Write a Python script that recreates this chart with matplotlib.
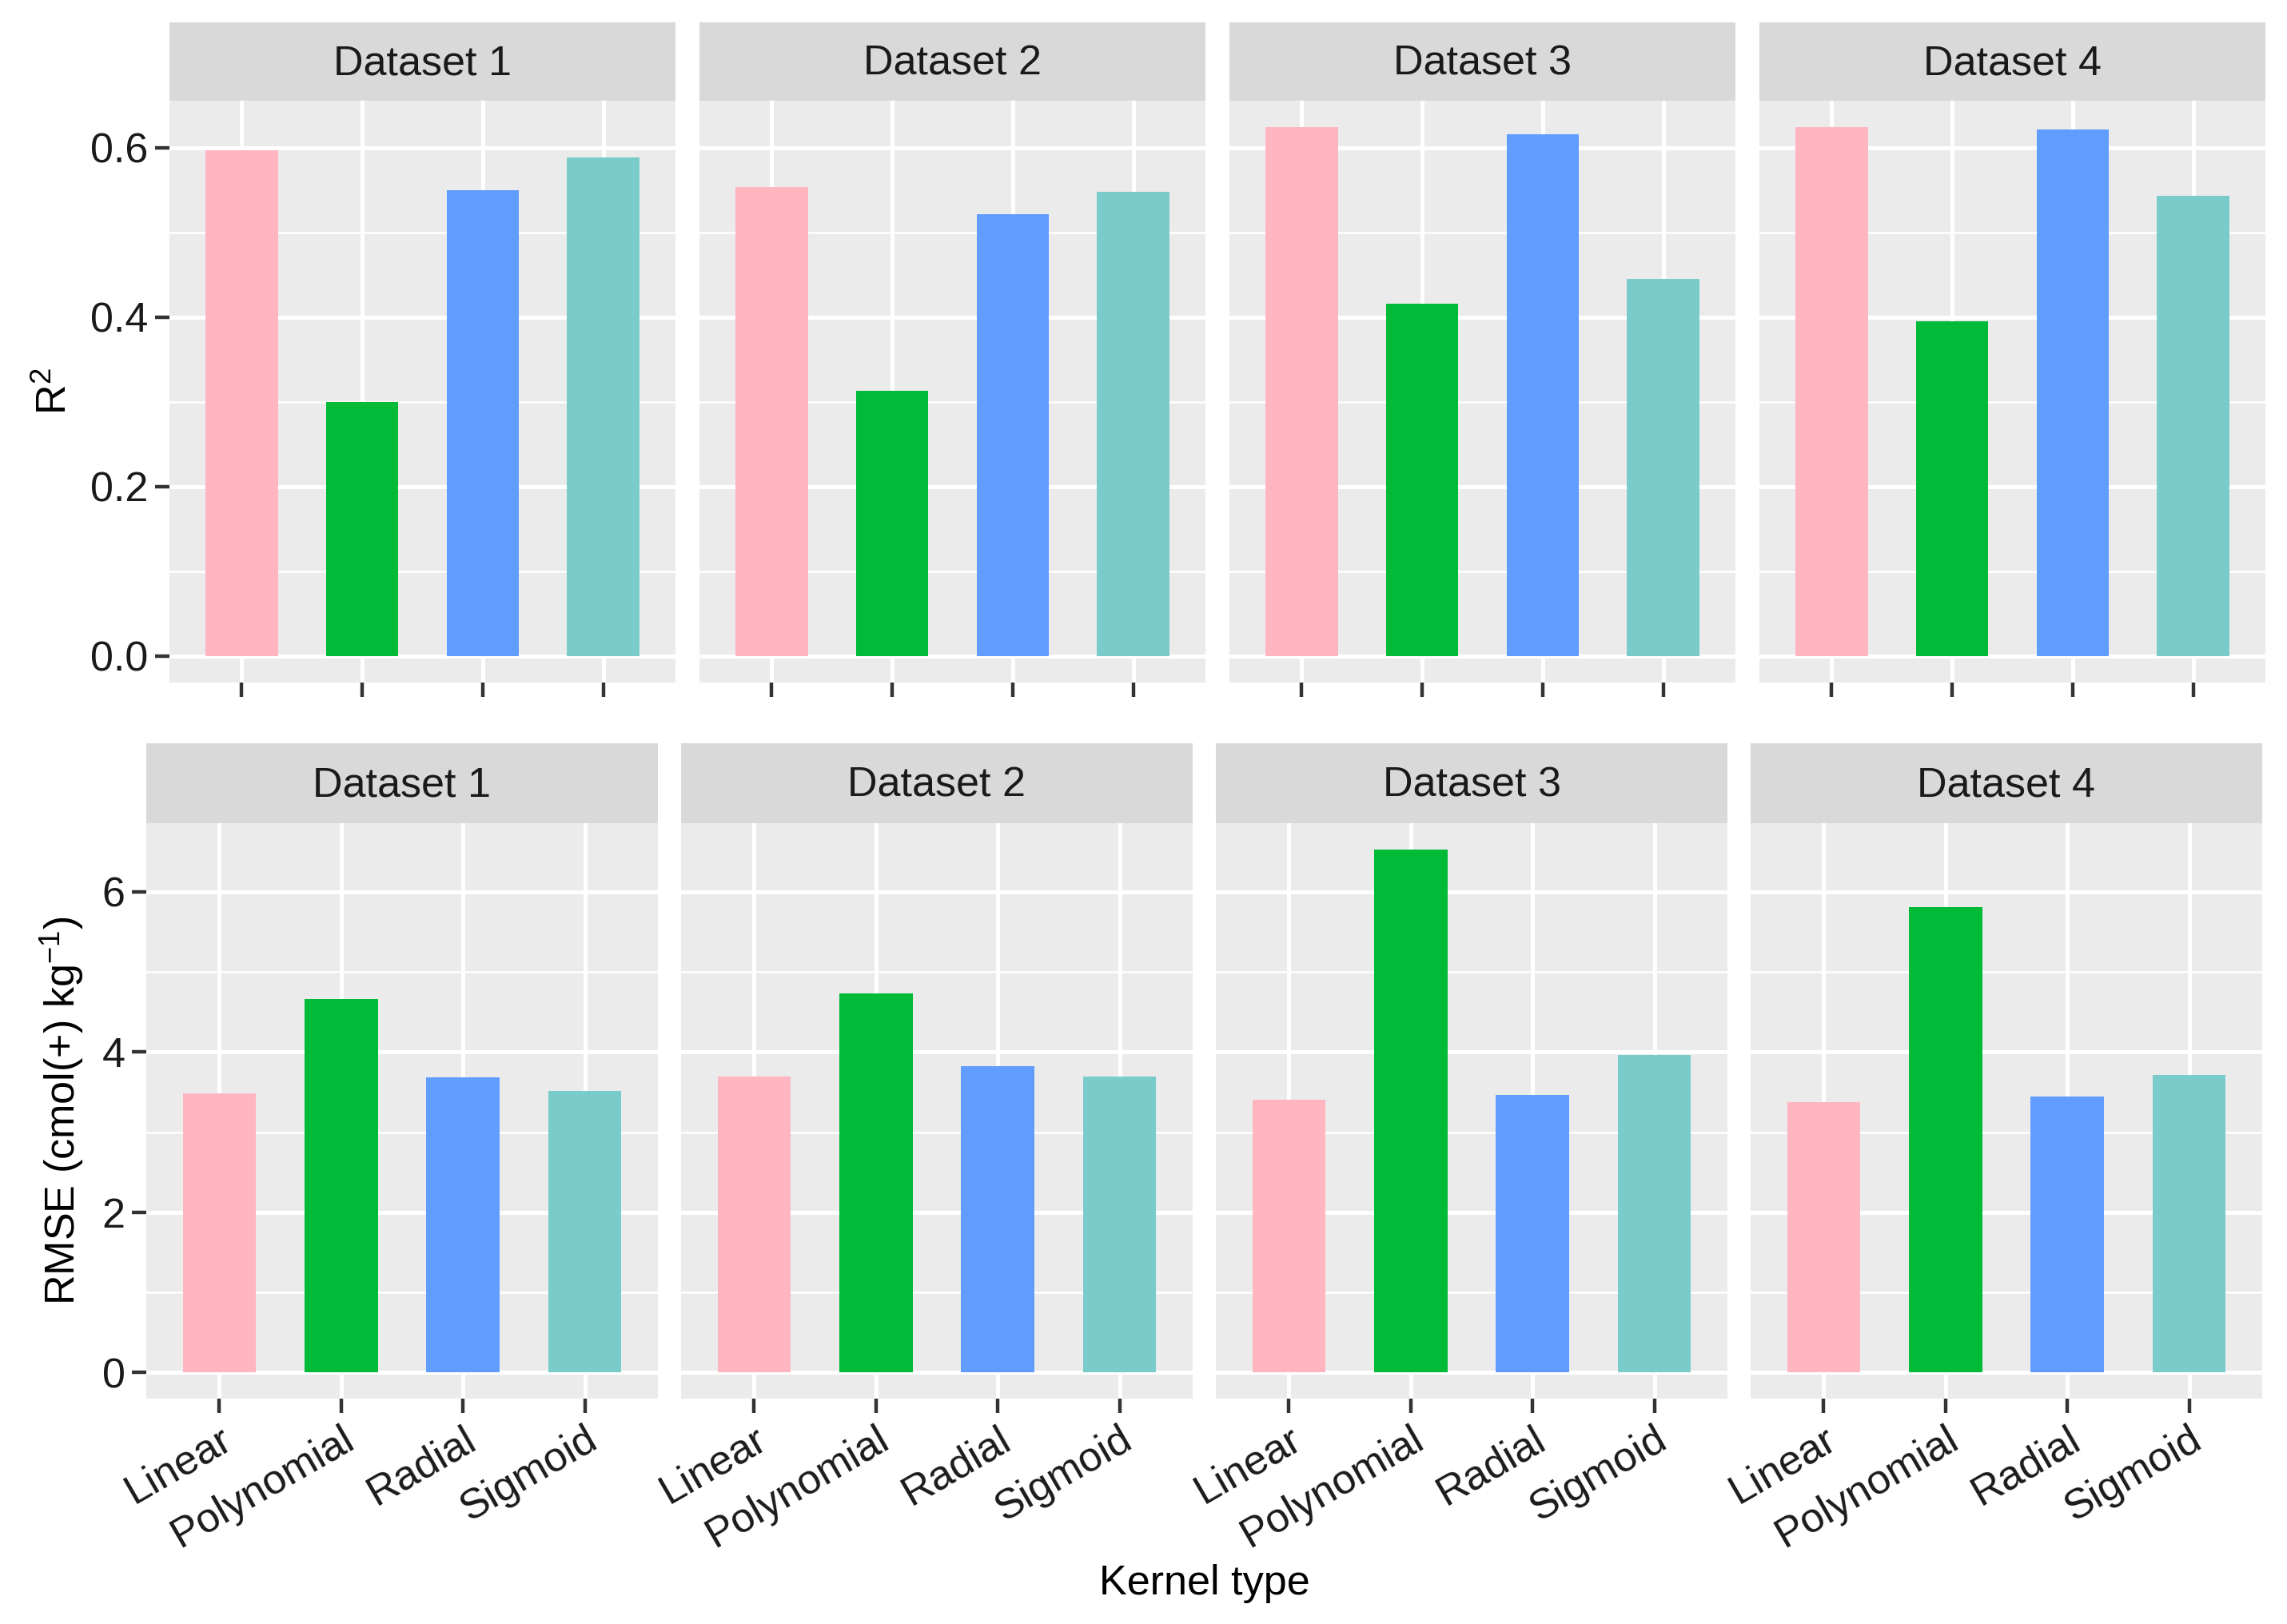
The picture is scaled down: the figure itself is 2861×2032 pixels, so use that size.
import matplotlib
matplotlib.use("Agg")
import matplotlib.pyplot as plt
from matplotlib.ticker import MultipleLocator

plt.rcParams['font.family'] = ['Liberation Sans', 'DejaVu Sans']
plt.rcParams['mathtext.fontset'] = 'custom'
plt.rcParams['mathtext.rm'] = 'Liberation Sans'
plt.rcParams['mathtext.it'] = 'Liberation Sans:italic'

datasets = ["Dataset 1", "Dataset 2", "Dataset 3", "Dataset 4"]
kernels = ["Linear", "Polynomial", "Radial", "Sigmoid"]
colors = ["#FFB6C1", "#00BA38", "#619CFF", "#7ACCCB"]

r2_d1 = [0.597, 0.300, 0.550, 0.588]
r2_d2 = [0.553, 0.313, 0.521, 0.548]
r2_d3 = [0.624, 0.416, 0.616, 0.445]
r2_d4 = [0.624, 0.395, 0.621, 0.543]
r2 = [r2_d1, r2_d2, r2_d3, r2_d4]

rmse_d1 = [3.48, 4.66, 3.68, 3.51]
rmse_d2 = [3.69, 4.73, 3.82, 3.69]
rmse_d3 = [3.40, 6.53, 3.46, 3.96]
rmse_d4 = [3.37, 5.81, 3.44, 3.71]
rmse = [rmse_d1, rmse_d2, rmse_d3, rmse_d4]

W, H = 2861, 2032
DPI = 100
fig = plt.figure(figsize=(W / DPI, H / DPI), dpi=DPI)
fig.patch.set_facecolor("white")

FS = 37.5
PANEL = "#EBEBEB"
STRIP = "#D9D9D9"


def px_axes(x0, y_top, w, h):
    return fig.add_axes([x0 / W, 1 - (y_top + h) / H, w / W, h / H])


def draw_row(values, left0, step, pw, strip_top, strip_h, ax_top, ax_h,
             ylim, major, minor, ylabel, show_xlabels, yfmt):
    axes = []
    for i, ds in enumerate(datasets):
        x0 = left0 + i * step
        sax = px_axes(x0, strip_top, pw, strip_h)
        sax.set_facecolor(STRIP)
        sax.set_xticks([])
        sax.set_yticks([])
        for s in sax.spines.values():
            s.set_visible(False)
        sax.text(0.5, 0.47, ds, ha="center", va="center", fontsize=FS,
                 color="#1A1A1A", transform=sax.transAxes)

        ax = px_axes(x0, ax_top, pw, ax_h)
        ax.set_facecolor(PANEL)
        for s in ax.spines.values():
            s.set_visible(False)
        xs = list(range(1, len(kernels) + 1))
        ax.bar(xs, values[i], width=0.6, color=colors, zorder=3)
        ax.set_xlim(0.4, 4.6)
        ax.set_ylim(*ylim)
        ax.yaxis.set_major_locator(MultipleLocator(major))
        ax.yaxis.set_minor_locator(MultipleLocator(minor))
        ax.set_xticks(xs)
        ax.grid(which="major", color="white", linewidth=3.6, zorder=0)
        ax.grid(which="minor", axis="y", color="white", linewidth=1.8, zorder=0)
        ax.set_axisbelow(True)
        ax.tick_params(axis="x", length=13, width=3.2, color="#333333",
                       labelsize=FS, labelcolor="#1A1A1A", pad=6)
        ax.tick_params(axis="y", which="major", length=13, width=3.2,
                       color="#333333", labelsize=FS, labelcolor="#1A1A1A", pad=6)
        ax.tick_params(axis="y", which="minor", length=0)
        if show_xlabels:
            ax.set_xticklabels(kernels, rotation=30, ha="right",
                               rotation_mode="anchor")
        else:
            ax.set_xticklabels([])
        if i == 0:
            ax.yaxis.set_major_formatter(yfmt)
            ax.set_ylabel(ylabel, fontsize=FS, color="black", labelpad=14)
        else:
            ax.tick_params(axis="y", which="both", length=0, labelleft=False)
        axes.append(ax)
    return axes


top_axes = draw_row(r2, 212, 663, 633, 28, 98, 126, 728,
                    (-0.0312, 0.6552), 0.2, 0.1, r"R$\mathregular{^{2}}$",
                    False, plt.FuncFormatter(lambda v, p: f"{v:.1f}"))
bot_axes = draw_row(rmse, 183, 669, 640, 930, 100, 1030, 720,
                    (-0.3265, 6.8565), 2, 1,
                    r"RMSE (cmol(+) kg$\mathregular{^{-1}}$)",
                    True, plt.FuncFormatter(lambda v, p: f"{v:.0f}"))

fig.text(1507 / W, 1 - 1982 / H, "Kernel type", ha="center", va="center",
         fontsize=FS, color="black")

fig.savefig("out.png", dpi=DPI, facecolor="white")
